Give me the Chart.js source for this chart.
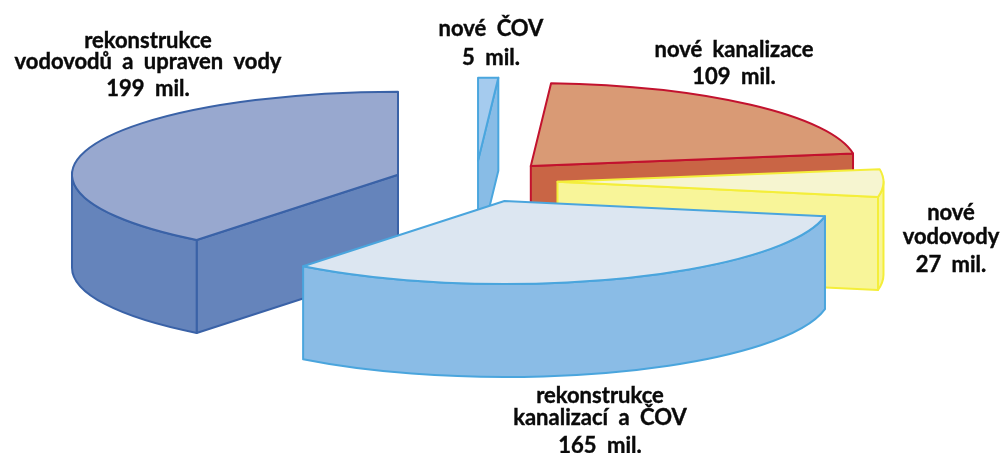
<!DOCTYPE html>
<html>
<head>
<meta charset="utf-8">
<style>html,body{margin:0;padding:0;background:#fff}canvas{display:block}</style>
<script src="https://cdn.jsdelivr.net/npm/chart.js@4"></script>
</head>
<body>
<canvas id="c" width="1005" height="453"></canvas>
<script>
const categories = ['nové ČOV', 'nové kanalizace', 'nové vodovody', 'rekonstrukce kanalizací a ČOV', 'rekonstrukce vodovodů a upraven vody'];
const values = [5, 109, 27, 165, 199];
const topColors = ['#a5cbee', '#d99a75', '#f6f5d0', '#dce6f1', '#98a8cf'];
const wallColors = ['#88bce6', '#c96545', '#f8f599', '#8abce6', '#6584bb'];
const edgeColors = ['#4aa6de', '#c2122e', '#f4ee3a', '#4aa5dd', '#3a62a7'];
const labelLines = [
  ['nové ČOV', '5 mil.'],
  ['nové kanalizace', '109 mil.'],
  ['nové', 'vodovody', '27 mil.'],
  ['rekonstrukce', 'kanalizací a ČOV', '165 mil.'],
  ['rekonstrukce', 'vodovodů a upraven vody', '199 mil.']
];
const labelX = [491, 734, 951, 600, 148];
const labelY = [[29, 58], [50, 77], [213, 237, 265], [396, 418, 446], [41, 62, 89]];

const SQUASH = 0.2546, DEPTH = 93, EXPLODE = 82;

const pie3d = {
  id: 'pie3d',
  beforeDatasetDraw() { return false; },
  afterDatasetsDraw(chart) {
    const ctx = chart.ctx;
    const arcs = chart.getDatasetMeta(0).data.map((el, i) => ({ el, i, mid: (el.startAngle + el.endAngle) / 2 }));
    arcs.sort((a, b) => Math.sin(a.mid) - Math.sin(b.mid));
    for (const { el, i, mid } of arcs) {
      const R = el.outerRadius;
      const ax = el.x + Math.cos(mid) * EXPLODE;
      const ay = el.y + Math.sin(mid) * EXPLODE * SQUASH;
      const px = t => ax + Math.cos(t) * R;
      const py = t => ay + Math.sin(t) * R * SQUASH;
      const s = el.startAngle, e = el.endAngle;
      ctx.save();
      ctx.lineJoin = 'round';
      ctx.lineWidth = 2;
      ctx.strokeStyle = edgeColors[i];
      const face = t => {
        ctx.beginPath();
        ctx.moveTo(ax, ay);
        ctx.lineTo(px(t), py(t));
        ctx.lineTo(px(t), py(t) + DEPTH);
        ctx.lineTo(ax, ay + DEPTH);
        ctx.closePath();
        ctx.fillStyle = wallColors[i];
        ctx.fill();
        ctx.stroke();
      };
      if (-Math.cos(s) > 0.001) face(s);
      if (Math.cos(e) > 0.001) face(e);
      const w0 = Math.max(s, 0), w1 = Math.min(e, Math.PI);
      if (w1 > w0) {
        ctx.beginPath();
        ctx.ellipse(ax, ay, R, R * SQUASH, 0, w0, w1);
        ctx.lineTo(px(w1), py(w1) + DEPTH);
        ctx.ellipse(ax, ay + DEPTH, R, R * SQUASH, 0, w1, w0, true);
        ctx.closePath();
        ctx.fillStyle = wallColors[i];
        ctx.fill();
        ctx.stroke();
      }
      ctx.beginPath();
      ctx.moveTo(ax, ay);
      ctx.ellipse(ax, ay, R, R * SQUASH, 0, s, e);
      ctx.closePath();
      ctx.fillStyle = topColors[i];
      ctx.fill();
      ctx.stroke();
      ctx.restore();
    }
    ctx.save();
    ctx.fillStyle = '#0a0a0a';
    ctx.strokeStyle = '#0a0a0a';
    ctx.lineWidth = 0.4;
    ctx.font = 'bold 22px Lato';
    ctx.wordSpacing = '5px';
    ctx.textAlign = 'center';
    ctx.textBaseline = 'middle';
    labelLines.forEach((lines, i) => lines.forEach((t, k) => {
      ctx.fillText(t, labelX[i], labelY[i][k]);
      ctx.strokeText(t, labelX[i], labelY[i][k]);
    }));
    ctx.restore();
  }
};

new Chart(document.getElementById('c'), {
  type: 'pie',
  data: { labels: categories, datasets: [{ data: values, backgroundColor: topColors, borderColor: edgeColors, radius: 326 }] },
  options: {
    responsive: false,
    animation: false,
    events: [],
    layout: { padding: { left: 1, top: 0, right: 55, bottom: 90 } },
    plugins: { legend: { display: false }, tooltip: { enabled: false } }
  },
  plugins: [pie3d]
});
</script>
</body>
</html>
